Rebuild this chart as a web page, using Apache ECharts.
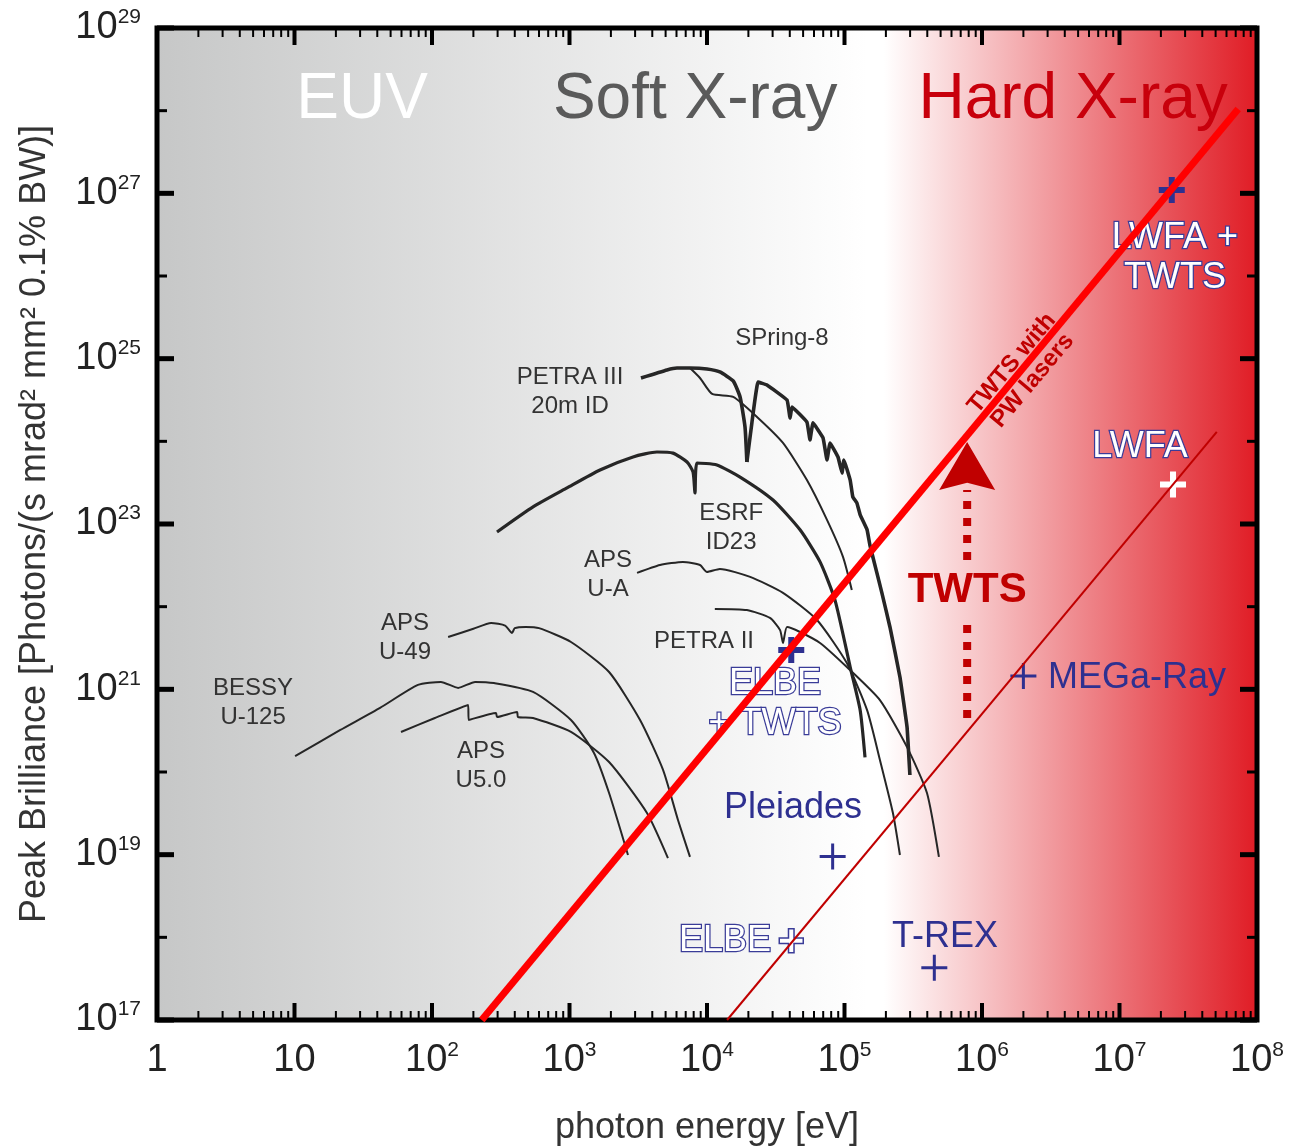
<!DOCTYPE html>
<html>
<head>
<meta charset="utf-8">
<script src="https://cdn.jsdelivr.net/npm/echarts@6/dist/echarts.min.js"></script>
<style>html,body{margin:0;padding:0;background:#fff;}#c{width:1293px;height:1148px;}</style>
</head>
<body>
<div id="c"></div>
<script>
// ---------- axis ranges & ticks ----------
const xMin = 1, xMax = 1e8, yMin = 1e17, yMax = 1e29;
const xTickDecades = [1, 10, 1e2, 1e3, 1e4, 1e5, 1e6, 1e7, 1e8];
const xMinorMultipliers = [2, 3, 4, 5, 6, 7, 8, 9];
const yTickDecades = [1e17, 1e18, 1e19, 1e20, 1e21, 1e22, 1e23, 1e24, 1e25, 1e26, 1e27, 1e28, 1e29];

// ---------- synchrotron curves [photon energy eV, peak brilliance] ----------
const bessyU125 = [[10.1,1.56e20],[21.4,3.2e20],[41.9,5.96e20],[79,1.13e21],[116,1.23e21],[155,1.04e21],[206,1.23e21],[282,1.19e21],[543,9.3e20],[1025,4.26e20],[1507,1.7e20],[1940,5.57e19],[2663,9.9e18]];
const apsU50 = [[59.5,3.05e20],[105,4.5e20],[183,6.47e20],[185,4.26e20],[292,5.18e20],[297,4.63e20],[415,5.32e20],[422,4.63e20],[543,4.5e20],[1025,3.05e20],[1940,1.32e20],[3660,3.19e19],[5200,9.1e18]];
const apsU49 = [[131,4.3e21],[200,5.4e21],[269,6.35e21],[340,5.9e21],[382,4.81e21],[400,5.5e21],[480,5.69e21],[600,5.5e21],[1025,3.74e21],[1940,1.62e21],[3260,4.26e20],[4790,1.06e20],[6150,2.63e19],[7520,9.4e18]];
const apsUA = [[3100,2.56e22],[4550,3.19e22],[6690,3.48e22],[8890,3.19e22],[1.0e4,2.63e22],[1.24e4,2.86e22],[2.06e4,2.29e22],[3.57e4,1.47e22],[6.31e4,6.9e21],[1.04e5,2.08e21],[1.46e5,5.6e20],[1.81e5,1.4e20],[2.25e5,3.19e19],[2.53e5,9.9e18]];
const petraII = [[1.14e4,9.4e21],[1.95e4,9.1e21],[2.87e4,7.3e21],[3.4e4,5.2e21],[3.57e4,3.64e21],[3.82e4,5.68e21],[4.75e4,4.94e21],[6.64e4,3.64e21],[1.04e5,1.86e21],[1.81e5,7.4e20],[2.85e5,2.0e20],[3.98e5,5.57e19],[4.86e5,9.4e18]];
const esrfID23 = [[297,8.0e22],[543,1.61e23],[959,2.73e23],[1667,4.5e23],[2897,6.47e23],[4325,7.43e23],[5660,7.2e23],[7160,5.62e23],[7910,4.26e23],[8180,2.37e23],[8460,5.47e23],[1.18e4,5.18e23],[1.74e4,3.7e23],[3.02e4,1.95e23],[4.75e4,8.5e22],[6.64e4,3.48e22],[8.53e4,1.2e22],[1.1e5,1.86e21],[1.3e5,5.6e20],[1.41e5,1.5e20]];
const petraIII = [[3310,5.84e24],[5120,7.3e24],[6050,7.7e24],[7520,7.7e24],[1.0e4,7.5e24],[1.24e4,6.9e24],[1.55e4,5.37e24],[1.74e4,3.44e24],[1.89e4,1.49e24],[1.95e4,5.62e23]];
const petraIIIHarmonic = [[7520,7.7e24],[8890,5.84e24],[1.09e4,3.74e24],[1.55e4,3.44e24],[2.31e4,1.97e24],[3.57e4,9.55e23],[5.33e4,3.4e23],[7.46e4,1.12e23],[9.75e4,4.0e22],[1.13e5,1.59e22]];
const spring8 = [[1.95e4,5.62e23],[2.12e4,1.67e24],[2.35e4,5.22e24],[2.73e4,4.8e24],[3.82e4,3.16e24],[4.02e4,1.91e24],[4.15e4,2.6e24],[5.33e4,1.71e24],[5.61e4,1.04e24],[5.9e4,1.67e24],[6.98e4,1.1e24],[7.46e4,5.94e23],[7.85e4,9.55e23],[8.97e4,6.47e23],[9.59e4,4.14e23],[9.9e4,5.94e23],[1.1e5,3.4e23],[1.15e5,2.12e23],[1.23e5,1.8e23],[1.3e5,1.29e23],[1.46e5,8.5e22],[1.53e5,5.57e22],[1.72e5,2.56e22],[1.87e5,1.47e22],[2.14e5,5.68e21],[2.53e5,1.41e21],[2.85e5,3.5e20],[2.99e5,9.2e19]];

// ---------- laser-driven sources ----------
const twtsPWLine = [[230,1e17],[7.3e7,1.05e28]];
const lwfaLine = [[1.4e4,1e17],[5.1e7,1.3e24]];
const twtsArrowLower = [[7.8e5,4.5e20],[7.8e5,7.5e21]];
const twtsArrowUpper = [[7.8e5,3.67e22],[7.8e5,2.57e23]];
const twtsArrowHead = [[7.8e5,5.04e23]];

// ---------- source points ----------
const lwfaTwtsPoint = [[2.4e7,1.1e27]];
const lwfaPoint = [[2.45e7,3.0e23]];
const megaRayPoint = [[2.0e6,1.45e21]];
const elbeTwtsPoint = [[4.1e4,3.0e21]];
const pleiadesPoint = [[8.2e4,9.5e18]];
const elbePoint = [[4.1e4,9.1e17]];
const trexPoint = [[4.5e5,4.3e17]];

// ---------- text annotations ----------
const regionNames = ['EUV', 'Soft X-ray', 'Hard X-ray'];
const regionPos = [[31,1.35e28],[8.2e3,1.35e28],[4.6e6,1.35e28]];
const curveNames = ['BESSY\nU-125','APS\nU-49','APS\nU5.0','APS\nU-A','PETRA III\n20m ID','ESRF\nID23','PETRA II','SPring-8'];
const curveNamePos = [[5.0,6.84e20],[63.6,4.18e21],[227,1.18e20],[1905,2.42e22],[1009,3.95e24],[1.5e4,8.96e22],[9510,3.85e21],[3.51e4,1.78e25]];
const solidSourceNames = ['MEGa-Ray','Pleiades','T-REX'];
const solidSourcePos = [[1.34e7,1.37e21],[4.22e4,3.67e19],[5.38e5,1.01e18]];
const outlineSourceNames = ['LWFA +\nTWTS','LWFA','ELBE\n+ TWTS','ELBE'];
const outlineSourcePos = [[2.53e7,1.65e26],[1.41e7,8.55e23],[3.12e4,6.65e20],[1.35e4,9.04e17]];
const twtsLabel = ['TWTS'];
const twtsLabelPos = [[7.8e5,1.58e22]];
const pwLabel = ['TWTS with\nPW lasers'];
const pwLabelPos = [[1.96e6,6.9e24]];

// ---------- styling ----------
const FONT = '"Liberation Sans", Arial, Helvetica, sans-serif';
const BLUE = '#2e3090';
const DARKRED = '#c00000';
const plusThin = 'path://M11.5,0h3v11.5h11.5v3h-11.5v11.5h-3v-11.5h-11.5v-3h11.5z';
const plusThick = 'path://M10,0h6v10h10v6h-10v10h-6v-10h-10v-6h10z';
const arrowPath = 'path://M50,0L100,100L50,85L0,100Z';

function pow10Label(v) {
  const e = Math.round(Math.log10(v));
  if (e === 0) return '{b|1}';
  if (e === 1) return '{b|10}';
  return '{b|10}{s|' + e + '}';
}
const richPow = {
  b: { fontSize: 38, fontFamily: FONT, color: '#222', lineHeight: 42 },
  s: { fontSize: 21, fontFamily: FONT, color: '#222', lineHeight: 22, verticalAlign: 'top' }
};

function curve(data, width, smooth) {
  return { type: 'line', data: data, symbol: 'none', smooth: smooth, z: 3, silent: true,
    lineStyle: { color: '#262626', width: width, join: 'round' } };
}

function textSeries(names, pos, style, z) {
  return {
    type: 'scatter', symbolSize: 0, silent: true, z: z || 4,
    itemStyle: { opacity: 1 },
    data: names.map((t, i) => ({ value: pos[i], label: Object.assign({ show: true, formatter: t, position: 'inside', opacity: 1 }, style) }))
  };
}

function marker(data, symbol, size, itemStyle) {
  return { type: 'scatter', data: data, symbol: symbol, symbolSize: size, z: 6, silent: true,
    itemStyle: Object.assign({ opacity: 1 }, itemStyle) };
}

// tick data (positions only)
const xTickData = [];
xTickDecades.forEach(d => {
  xTickData.push([d, yMin, 1]);
  if (d < xMax) xMinorMultipliers.forEach(m => xTickData.push([d * m, yMin, 0]));
});
const yTickData = yTickDecades.map(d => [xMin, d, Math.round(Math.log10(d)) % 2 === 1 ? 1 : 0]);

const chart = echarts.init(document.getElementById('c'), null, { renderer: 'canvas', width: 1293, height: 1148 });

const option = {
  animation: false,
  backgroundColor: '#ffffff',
  grid: {
    left: 157, top: 28, width: 1100, height: 992, containLabel: false, outerBoundsMode: 'none',
    show: true, borderColor: '#000', borderWidth: 5,
    backgroundColor: new echarts.graphic.LinearGradient(0, 0, 1, 0, [
      { offset: 0, color: '#c6c7c7' },
      { offset: 0.645, color: '#ffffff' },
      { offset: 0.66, color: '#ffffff' },
      { offset: 1, color: '#e01b24' }
    ])
  },
  xAxis: {
    type: 'log', logBase: 10, min: xMin, max: xMax, interval: 1,
    name: 'photon energy [eV]', nameLocation: 'middle', nameGap: 90,
    nameTextStyle: { fontSize: 36, fontFamily: FONT, color: '#333' },
    axisLine: { show: false }, axisTick: { show: false }, splitLine: { show: false }, minorTick: { show: false },
    axisLabel: { formatter: pow10Label, rich: richPow, margin: 20 }
  },
  yAxis: {
    type: 'log', logBase: 10, min: yMin, max: yMax, interval: 2,
    name: 'Peak Brilliance [Photons/(s mrad\u00b2 mm\u00b2 0.1% BW)]', nameLocation: 'middle', nameGap: 104,
    nameTextStyle: { fontSize: 36, fontFamily: FONT, color: '#333' },
    axisLine: { show: false }, axisTick: { show: false }, splitLine: { show: false }, minorTick: { show: false },
    axisLabel: { formatter: pow10Label, rich: richPow, margin: 16 }
  },
  series: [
    // region titles
    textSeries(regionNames, regionPos, { fontSize: 64, fontFamily: FONT }, 2),
    // synchrotron curves
    curve(bessyU125, 2, 0.2),
    curve(apsU50, 2, 0.2),
    curve(apsU49, 2, 0.2),
    curve(apsUA, 2, 0.2),
    curve(petraII, 2, 0.2),
    curve(esrfID23, 3.2, 0.2),
    curve(petraIIIHarmonic, 2, 0.2),
    curve(petraIII, 3.6, 0.15),
    curve(spring8, 3.6, 0.08),
    // curve names
    textSeries(curveNames, curveNamePos, { fontSize: 24, fontFamily: FONT, color: '#333', lineHeight: 29 }),
    // source names
    textSeries(solidSourceNames, solidSourcePos, { fontSize: 36, fontFamily: FONT, color: BLUE }),
    textSeries(outlineSourceNames, outlineSourcePos, { fontSize: 36, fontFamily: FONT, color: '#ffffff', textBorderColor: '#3a3c98', textBorderWidth: 2.5, lineHeight: 40 }),
    // source markers
    marker(lwfaTwtsPoint, plusThick, 26, { color: BLUE }),
    marker(lwfaPoint, plusThick, 26, { color: '#ffffff' }),
    marker(megaRayPoint, plusThin, 26, { color: BLUE }),
    marker(elbeTwtsPoint, plusThick, 26, { color: BLUE }),
    marker(pleiadesPoint, plusThin, 26, { color: BLUE }),
    marker(elbePoint, plusThick, 24, { color: '#ffffff', borderColor: '#3a3c98', borderWidth: 1.5 }),
    marker(trexPoint, plusThin, 26, { color: BLUE }),
    // TWTS arrow
    { type: 'line', data: twtsArrowLower, symbol: 'none', z: 5, silent: true, lineStyle: { color: DARKRED, width: 8, type: [8, 9], cap: 'butt' } },
    { type: 'line', data: twtsArrowUpper, symbol: 'none', z: 5, silent: true, lineStyle: { color: DARKRED, width: 8, type: [8, 9], cap: 'butt' } },
    { type: 'scatter', data: twtsArrowHead, symbol: arrowPath, symbolSize: [56, 48], z: 5, silent: true, itemStyle: { color: DARKRED, opacity: 1 } },
    textSeries(twtsLabel, twtsLabelPos, { fontSize: 42, fontWeight: 'bold', fontFamily: FONT, color: DARKRED }, 5),
    textSeries(pwLabel, pwLabelPos, { fontSize: 24, fontWeight: 'bold', fontFamily: FONT, color: DARKRED, rotate: 50, lineHeight: 27 }, 5),
    // scaling lines
    { type: 'line', data: lwfaLine, symbol: 'none', z: 7, silent: true, lineStyle: { color: DARKRED, width: 2 } },
    { type: 'line', data: twtsPWLine, symbol: 'none', z: 8, silent: true, lineStyle: { color: '#ff0000', width: 7, cap: 'butt' } },
    // ticks
    {
      type: 'custom', data: xTickData, encode: { x: 0, y: 1 }, z: 20, silent: true, clip: false,
      renderItem: function (params, api) {
        const v = api.value(0), major = api.value(2) === 1;
        const b = api.coord([v, yMin]), t = api.coord([v, yMax]);
        const len = major ? 17 : 9, w = major ? 4 : 2;
        return { type: 'group', children: [
          { type: 'line', shape: { x1: b[0], y1: b[1], x2: b[0], y2: b[1] - len }, style: { stroke: '#000', lineWidth: w } },
          { type: 'line', shape: { x1: t[0], y1: t[1], x2: t[0], y2: t[1] + len }, style: { stroke: '#000', lineWidth: w } }
        ] };
      }
    },
    {
      type: 'custom', data: yTickData, encode: { x: 0, y: 1 }, z: 20, silent: true, clip: false,
      renderItem: function (params, api) {
        const v = api.value(1), major = api.value(2) === 1;
        const l = api.coord([xMin, v]), r = api.coord([xMax, v]);
        const len = major ? 17 : 10, w = major ? 5 : 3;
        return { type: 'group', children: [
          { type: 'line', shape: { x1: l[0], y1: l[1], x2: l[0] + len, y2: l[1] }, style: { stroke: '#000', lineWidth: w } },
          { type: 'line', shape: { x1: r[0], y1: r[1], x2: r[0] - len, y2: r[1] }, style: { stroke: '#000', lineWidth: w } }
        ] };
      }
    }
  ]
};
// region title colours
option.series[0].data[0].label.color = '#ffffff';
option.series[0].data[1].label.color = '#5a5a5a';
option.series[0].data[2].label.color = '#c8000c';

chart.setOption(option);
</script>
</body>
</html>
